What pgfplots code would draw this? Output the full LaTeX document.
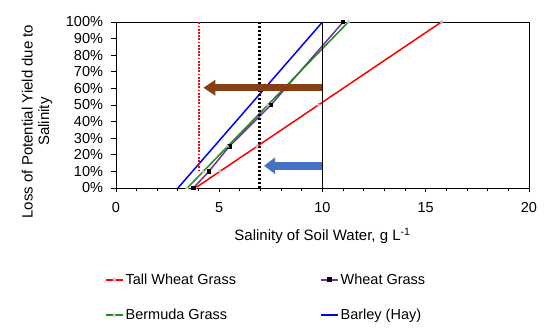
\documentclass[border=0pt]{standalone}
\usepackage{pgfplots}
\pgfplotsset{compat=1.18}
\usepackage{fontspec}
\setmainfont{Liberation Sans}
\usetikzlibrary{arrows.meta}
\definecolor{cred}{RGB}{255,0,0}
\definecolor{cpurple}{RGB}{112,48,160}
\definecolor{cgreen}{RGB}{30,140,30}
\definecolor{cblue}{RGB}{0,0,255}
\definecolor{cbrown}{RGB}{135,62,18}
\definecolor{carrowblue}{RGB}{68,114,196}
\begin{document}
\begin{tikzpicture}
\useasboundingbox (-116pt,-143pt) rectangle (434pt,188pt);
\begin{axis}[
  at={(0pt,0pt)}, anchor=south west,
  width=413pt, height=166pt, scale only axis,
  xmin=0, xmax=20, ymin=0, ymax=100,
  xtick={0,5,10,15,20}, minor x tick num=4,
  ytick={0,10,...,100},
  yticklabel={\pgfmathprintnumber{\tick}\%},
  tick pos=left, tick align=outside,
  axis line style={line width=0.9pt},
  major tick style={line width=0.9pt, black},
  minor tick style={line width=0.9pt, black},
  major tick length=4.5pt, minor tick length=3pt,
  tick label style={font=\fontsize{14.5}{17}\selectfont},
  xticklabel style={yshift=-6pt},
  yticklabel style={xshift=-5pt},
  /pgf/number format/assume math mode=true,
  xlabel={Salinity of Soil Water, g L\textsuperscript{-1}},
  xlabel style={font=\fontsize{15}{17}\selectfont, at={(axis description cs:0.5,-0.289)}, anchor=center},
  ylabel={Loss of Potential Yield due to\\Salinity},
  ylabel style={font=\fontsize{15}{16.5}\selectfont, align=center, at={(axis description cs:-0.191,0.40)}, anchor=center},
  legend columns=2,
  legend cell align=left,
  legend style={at={(axis description cs:-0.027,-0.503)}, anchor=north west, draw=none, fill=none,
    font=\fontsize{14.5}{17}\selectfont, inner sep=0pt,
    /tikz/every even column/.append style={column sep=82pt},
    /tikz/row sep=19.5pt},
]
\addplot[cred, line width=1.5pt, mark=diamond*, mark size=2pt, mark options={fill=gray!40, draw=gray!60, line width=0.4pt},
  legend image code/.code={\draw[cred, line width=1.6pt] (0pt,0pt) -- (17pt,0pt);
    \draw[gray!60, fill=gray!40, line width=0.4pt] (8.5pt,2pt) -- (10pt,0pt) -- (8.5pt,-2pt) -- (7pt,0pt) -- cycle;}]
  coordinates {(3.84,0) (5.03,10) (6.82,25) (9.80,50) (15.76,100)};
\addlegendentry{Tall Wheat Grass}
\addplot[cpurple, line width=1.5pt, mark=square*, mark size=1.6pt, mark options={fill=black, draw=black},
  legend image code/.code={\draw[cpurple, line width=1.6pt] (0pt,0pt) -- (17pt,0pt);
    \fill[black] (7pt,-1.5pt) rectangle (10pt,1.5pt);}]
  coordinates {(3.75,0) (4.50,10) (5.48,25) (7.50,50) (11.0,100)};
\addlegendentry{Wheat Grass}
\addplot[cgreen, line width=1.5pt, mark=triangle*, mark size=2pt, mark options={fill=gray!40, draw=gray!60, line width=0.4pt},
  legend image code/.code={\draw[cgreen, line width=1.6pt] (0pt,0pt) -- (17pt,0pt);
    \draw[gray!60, fill=gray!40, line width=0.4pt] (8.5pt,2pt) -- (10.2pt,-1pt) -- (6.8pt,-1pt) -- cycle;}]
  coordinates {(3.45,0) (4.23,10) (5.40,25) (7.35,50) (11.25,100)};
\addlegendentry{Bermuda Grass}
\addplot[cblue, line width=1.5pt,
  legend image code/.code={\draw[cblue, line width=1.6pt] (0pt,0pt) -- (17pt,0pt);}]
  coordinates {(3.0,0) (3.7,10) (4.75,25) (6.5,50) (10.0,100)};
\addlegendentry{Barley (Hay)}
\addplot[cred, line width=2.4pt, dash pattern=on 1.8pt off 1.4pt, forget plot] coordinates {(4.02,10) (4.02,100)};
\addplot[black, line width=2.2pt, dash pattern=on 2pt off 2pt, forget plot] coordinates {(6.95,0) (6.95,100)};
\addplot[black, line width=1.8pt, forget plot] coordinates {(10,0) (10,100)};
\addplot[cbrown, line width=7pt, -{Triangle[length=12pt, width=15pt]}, forget plot] coordinates {(10,60.4) (4.23,60.4)};
\addplot[carrowblue, line width=8pt, -{Triangle[length=11pt, width=16pt]}, forget plot] coordinates {(10,13.4) (7.17,13.4)};
\end{axis}
\end{tikzpicture}
\end{document}
